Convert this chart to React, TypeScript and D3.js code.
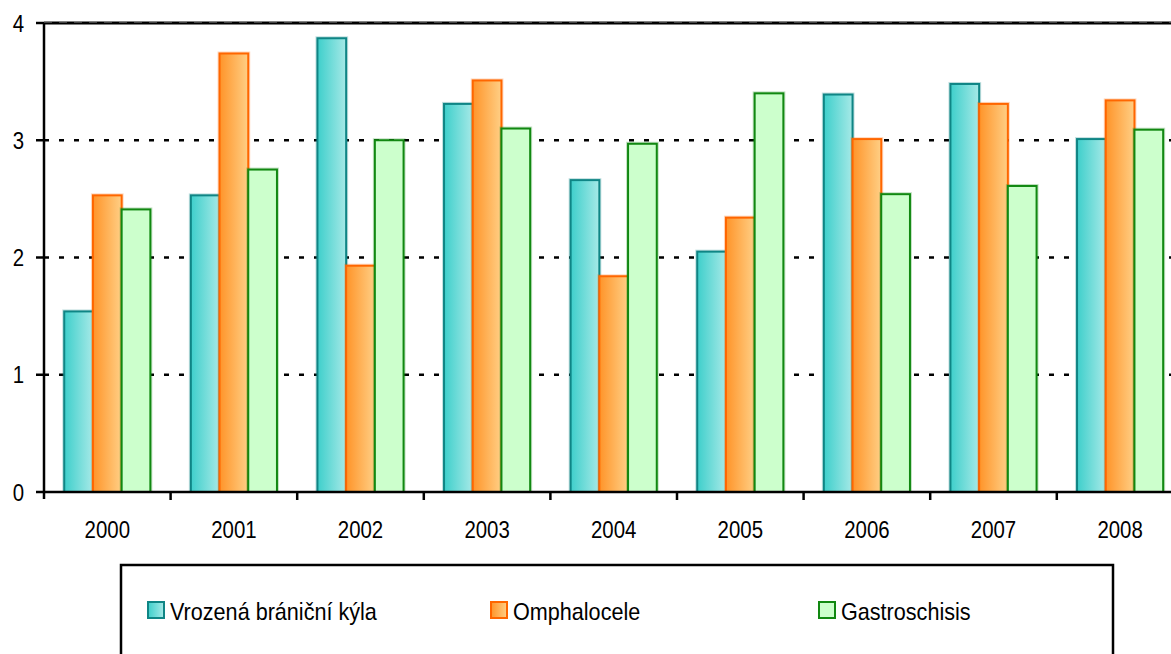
import React from "react";
import * as d3 from "d3";

const years = ["2000", "2001", "2002", "2003", "2004", "2005", "2006", "2007", "2008"];
const seriesNames = ["Vrozená brániční kýla", "Omphalocele", "Gastroschisis"];
const hernia = [1.54, 2.53, 3.87, 3.31, 2.66, 2.05, 3.39, 3.48, 3.01];
const omphalocele = [2.53, 3.74, 1.93, 3.51, 1.84, 2.34, 3.01, 3.31, 3.34];
const gastroschisis = [2.41, 2.75, 3.0, 3.1, 2.97, 3.4, 2.54, 2.61, 3.09];
const yTicks = [0, 1, 2, 3, 4];

const seriesValues = [hernia, omphalocele, gastroschisis];
const seriesStyle = [
  { id: "gCyan", from: "#3ecfcb", to: "#a6e9e7", stroke: "#0f8585" },
  { id: "gOrange", from: "#ff9429", to: "#ffcf85", stroke: "#ff6600" },
  { id: "gGreen", from: "#ccffcc", to: "#ccffcc", stroke: "#118811" },
];

const W = 1171;
const H = 654;
const left = 44;
const top = 23;
const bottom = 492;
const step = 126.6;
const font = "'Liberation Sans', Arial, sans-serif";

// Narrow Arial-style label: regular face squeezed horizontally
function Label(props: {
  x: number;
  y: number;
  sx?: number;
  anchor?: "start" | "middle" | "end";
  children: React.ReactNode;
}) {
  return (
    <g transform={`translate(${props.x},${props.y}) scale(${props.sx ?? 0.85},1)`}>
      <text
        x={0}
        y={0}
        textAnchor={props.anchor ?? "start"}
        fontFamily={font}
        fontSize={24}
        fill="#000"
      >
        {props.children}
      </text>
    </g>
  );
}

export default function App() {
  const x = d3
    .scaleBand<string>()
    .domain(years)
    .range([left, left + step * years.length])
    .padding(0);
  const inner = d3
    .scaleBand<number>()
    .domain([0, 1, 2])
    .range([0, x.bandwidth()])
    .paddingInner(0)
    .paddingOuter(0.705);
  const y = d3.scaleLinear().domain([0, 4]).range([bottom, top]);

  const legendX = [148, 491, 819];

  return (
    <svg
      width={W}
      height={H}
      style={{ position: "absolute", left: 0, top: 0, background: "#fff" }}
    >
      <defs>
        {seriesStyle.map((s) => (
          <linearGradient key={s.id} id={s.id} x1="0" x2="1" y1="0" y2="0">
            <stop offset="0" stopColor={s.from} />
            <stop offset="1" stopColor={s.to} />
          </linearGradient>
        ))}
      </defs>

      {/* horizontal grid */}
      {yTicks
        .filter((t) => t > 0 && t < 4)
        .map((t) => (
          <line
            key={t}
            x1={left}
            x2={W}
            y1={y(t)}
            y2={y(t)}
            stroke="#000"
            strokeWidth={2.5}
            strokeDasharray="5 10"
          />
        ))}
      <line x1={left} x2={W} y1={y(4)} y2={y(4)} stroke="#000" strokeWidth={3} />
      <line
        x1={left}
        x2={W}
        y1={y(4) - 1}
        y2={y(4) - 1}
        stroke="#888"
        strokeWidth={1}
        strokeDasharray="8 7"
      />

      {/* bars */}
      {years.map((yr, i) => (
        <g key={yr}>
          {seriesValues.map((vals, s) => {
            const bx = (x(yr) ?? 0) + (inner(s) ?? 0);
            const bw = inner.bandwidth();
            const by = y(vals[i]);
            return (
              <g key={s}>
                <rect
                  x={bx - 1}
                  y={by - 1}
                  width={bw + 2}
                  height={bottom - by + 1}
                  fill="none"
                  stroke={seriesStyle[s].stroke}
                  strokeOpacity={0.25}
                  strokeWidth={2}
                />
                <rect
                  x={bx}
                  y={by}
                  width={bw}
                  height={bottom - by}
                  fill={`url(#${seriesStyle[s].id})`}
                  stroke={seriesStyle[s].stroke}
                  strokeWidth={2}
                />
              </g>
            );
          })}
        </g>
      ))}

      {/* axes */}
      <line x1={left} x2={left} y1={top} y2={bottom + 7} stroke="#000" strokeWidth={2.5} />
      <line x1={left} x2={W} y1={bottom} y2={bottom} stroke="#000" strokeWidth={2.5} />
      {yTicks.map((t) => (
        <g key={t}>
          <line x1={left - 8} x2={left} y1={y(t)} y2={y(t)} stroke="#000" strokeWidth={2.5} />
          <Label x={24} y={y(t) + 8.5} anchor="end">
            {t}
          </Label>
        </g>
      ))}
      {years.map((yr, i) => (
        <g key={yr}>
          {i > 0 && (
            <line
              x1={x(yr)}
              x2={x(yr)}
              y1={bottom}
              y2={bottom + 8}
              stroke="#000"
              strokeWidth={2.5}
            />
          )}
          <Label x={(x(yr) ?? 0) + x.bandwidth() / 2} y={538} anchor="middle">
            {yr}
          </Label>
        </g>
      ))}

      {/* legend */}
      <rect x={121} y={565} width={992} height={110} fill="#fff" stroke="#000" strokeWidth={2.5} />
      {seriesNames.map((name, s) => (
        <g key={name}>
          <rect
            x={legendX[s]}
            y={602}
            width={16}
            height={16}
            fill={`url(#${seriesStyle[s].id})`}
            stroke={seriesStyle[s].stroke}
            strokeWidth={2}
          />
          <Label x={legendX[s] + 22} y={620} sx={0.9}>
            {name}
          </Label>
        </g>
      ))}
    </svg>
  );
}
